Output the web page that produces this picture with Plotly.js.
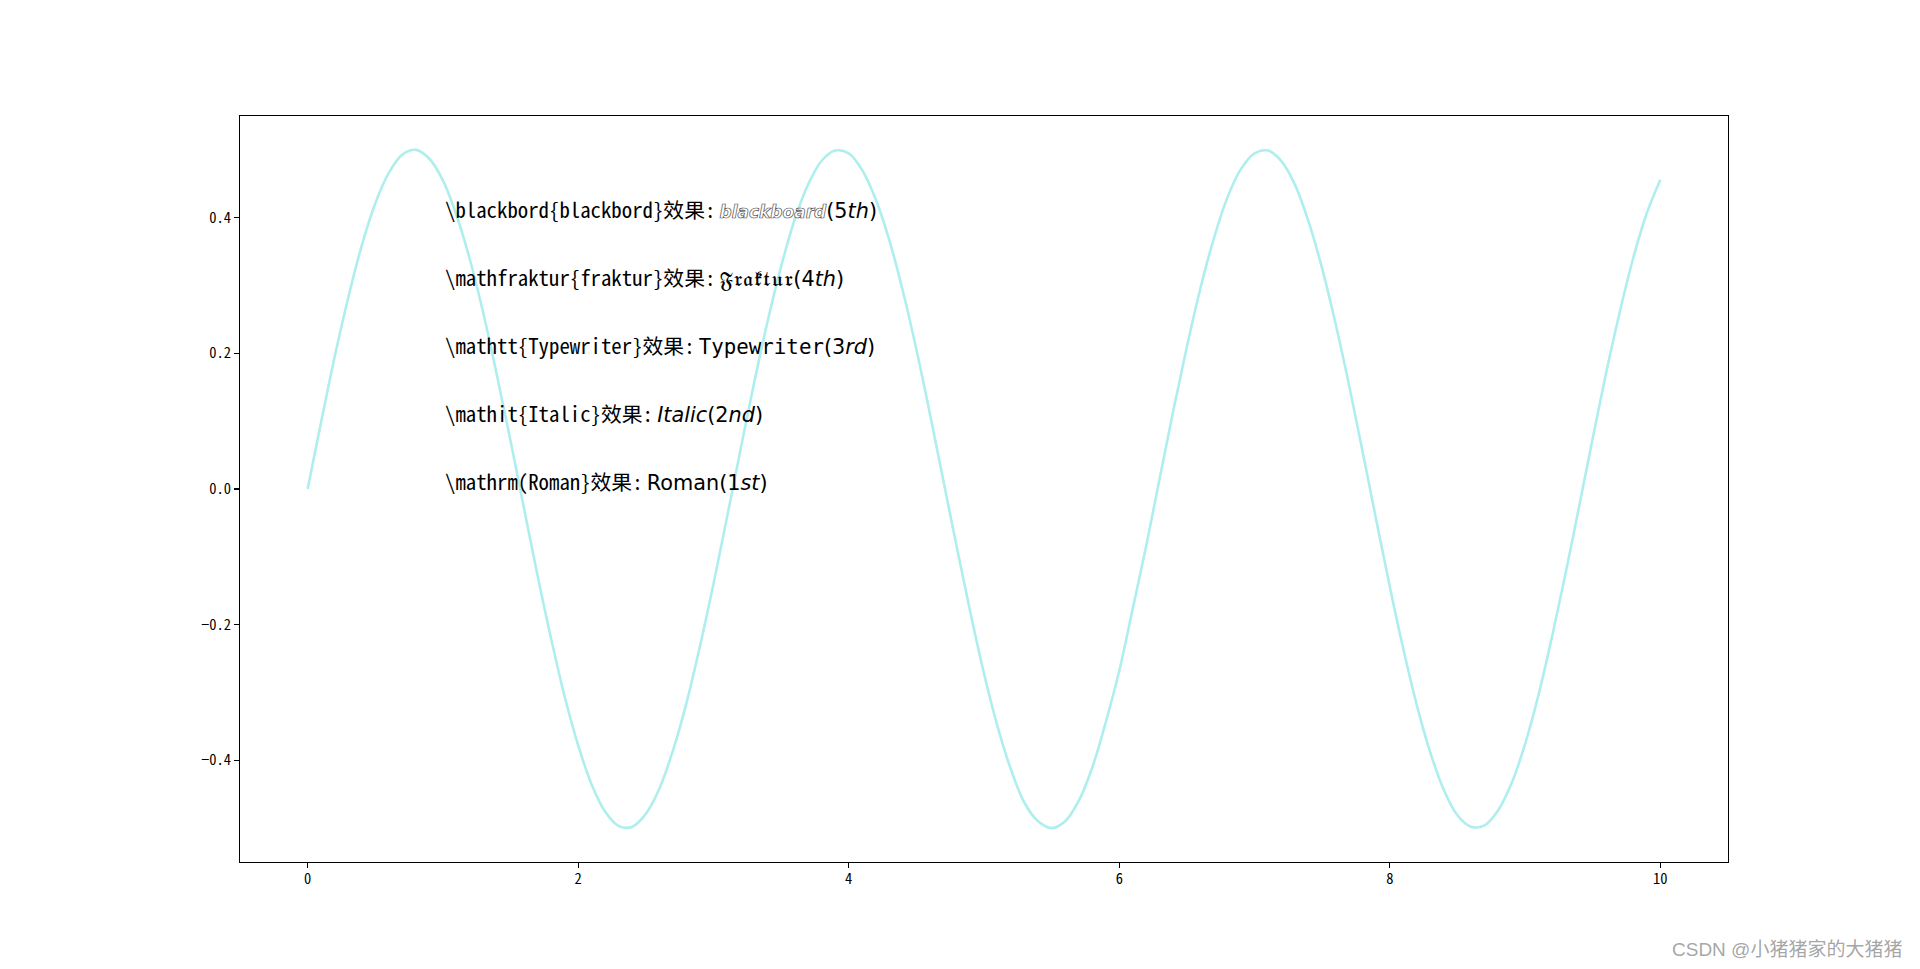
<!DOCTYPE html>
<html>
<head>
<meta charset="utf-8">
<script src="https://cdn.plot.ly/plotly-3.0.1.min.js"></script>
<style>html,body{margin:0;padding:0;background:#fff;}#chart{width:1920px;height:969px;}</style>
</head>
<body>
<div id="chart"></div>
<script>
// curve values
const xValues = [0, 0.1, 0.2, 0.3, 0.4, 0.5, 0.6, 0.7, 0.8, 0.9, 1.0, 1.1, 1.2, 1.3, 1.4, 1.5, 1.6, 1.7, 1.8, 1.9,
  2.0, 2.1, 2.2, 2.3, 2.4, 2.5, 2.6, 2.7, 2.8, 2.9, 3.0, 3.1, 3.2, 3.3, 3.4, 3.5, 3.6, 3.7, 3.8, 3.9,
  4.0, 4.1, 4.2, 4.3, 4.4, 4.5, 4.6, 4.7, 4.8, 4.9, 5.0, 5.1, 5.2, 5.3, 5.4, 5.5, 5.6, 5.7, 5.8, 5.9,
  6.0, 6.1, 6.2, 6.3, 6.4, 6.5, 6.6, 6.7, 6.8, 6.9, 7.0, 7.1, 7.2, 7.3, 7.4, 7.5, 7.6, 7.7, 7.8, 7.9,
  8.0, 8.1, 8.2, 8.3, 8.4, 8.5, 8.6, 8.7, 8.8, 8.9, 9.0, 9.1, 9.2, 9.3, 9.4, 9.5, 9.6, 9.7, 9.8, 9.9, 10.0];
const yValues = [0, 0.099, 0.195, 0.282, 0.359, 0.421, 0.466, 0.493, 0.500, 0.487, 0.455, 0.404, 0.338, 0.258, 0.167, 0.071, -0.029, -0.128, -0.221, -0.306,
  -0.378, -0.436, -0.476, -0.497, -0.498, -0.479, -0.442, -0.386, -0.316, -0.232, -0.140, -0.042, 0.058, 0.156, 0.247, 0.328, 0.397, 0.449, 0.484, 0.499,
  0.495, 0.470, 0.427, 0.367, 0.292, 0.206, 0.111, 0.012, -0.087, -0.183, -0.272, -0.350, -0.414, -0.463, -0.490, -0.500, -0.490, -0.460, -0.411, -0.344,
  -0.268, -0.176, -0.083, 0.017, 0.116, 0.210, 0.296, 0.370, 0.430, 0.472, 0.495, 0.499, 0.483, 0.448, 0.394, 0.325, 0.243, 0.152, 0.054, -0.046,
  -0.144, -0.236, -0.319, -0.389, -0.444, -0.481, -0.498, -0.496, -0.474, -0.434, -0.376, -0.303, -0.217, -0.124, -0.025, 0.075, 0.172, 0.261, 0.341, 0.407, 0.456];

// text labels
const labelX = [1, 1, 1, 1, 1];
const labelY = [0.4, 0.3, 0.2, 0.1, 0.0];
const labelPrefix = ['\\blackbord{blackbord}效果:', '\\mathfraktur{fraktur}效果:', '\\mathtt{Typewriter}效果:', '\\mathit{Italic}效果:', '\\mathrm(Roman}效果:'];
const labelWord = ['blackboard', '𝔉𝔯𝔞𝔨𝔱𝔲𝔯', 'Typewriter', 'Italic', 'Roman'];
const labelRank = ['5', '4', '3', '2', '1'];
const labelSuffix = ['th', 'th', 'rd', 'nd', 'st'];
const wordStyles = [
  'font-family:DejaVu Sans;font-size:17px;font-weight:bold;font-style:italic;fill:#ffffff;stroke:#505050;stroke-width:0.7px',
  'font-family:DejaVu Serif, STIX Two Math, serif',
  'font-family:DejaVu Sans Mono',
  'font-family:DejaVu Sans;font-style:italic',
  'font-family:DejaVu Sans'
];

const xTicks = [0, 2, 4, 6, 8, 10];
const yTicks = [-0.4, -0.2, 0.0, 0.2, 0.4];
const watermark = 'CSDN @小猪猪家的大猪猪';

const MONO = 'Noto Sans Mono CJK SC, Liberation Mono, monospace';
const DJ = 'font-family:DejaVu Sans';

const annotations = labelPrefix.map((p, i) => ({
  x: labelX[i], y: labelY[i], xref: 'x', yref: 'y',
  xanchor: 'left', yanchor: 'bottom', yshift: -8.5, showarrow: false,
  align: 'left',
  font: {family: MONO, size: 20.8, color: '#000'},
  text: p + '<span style="' + DJ + '">\u2009</span><span style="' + wordStyles[i] + '">' + labelWord[i] + '</span>' +
        '<span style="' + DJ + '">(' + labelRank[i] + '<i>' + labelSuffix[i] + '</i>)</span>'
}));

annotations.push({
  xref: 'paper', yref: 'paper', x: 1.1183, y: -0.1287, xanchor: 'right', yanchor: 'bottom', yshift: -4,
  showarrow: false, text: watermark,
  font: {family: 'Liberation Sans, Noto Sans CJK SC, sans-serif', size: 19, color: 'rgba(150,150,150,0.85)'}
});

const data = [{
  x: xValues, y: yValues, type: 'scatter', mode: 'lines',
  line: {color: '#AFEEEE', width: 2.6, shape: 'spline', smoothing: 1},
  hoverinfo: 'skip'
}];

const axisCommon = {
  showline: true, mirror: true, linecolor: '#000', linewidth: 1.1,
  ticks: 'outside', ticklen: 5, tickwidth: 1.1, tickcolor: '#000',
  showgrid: false, zeroline: false,
  tickfont: {family: MONO, size: 14.5, color: '#000'}
};

const layout = {
  width: 1920, height: 969,
  margin: {l: 240, r: 192, t: 116, b: 107, pad: 0},
  paper_bgcolor: '#fff', plot_bgcolor: '#fff',
  showlegend: false,
  xaxis: Object.assign({}, axisCommon, {range: [-0.5, 10.5], tickvals: xTicks, ticktext: xTicks.map(String), ticklabelstandoff: -2}),
  yaxis: Object.assign({}, axisCommon, {range: [-0.55, 0.55], tickvals: yTicks, tickformat: '.1f'}),
  annotations: annotations
};

Plotly.newPlot('chart', data, layout, {displayModeBar: false, staticPlot: true});
</script>
</body>
</html>
